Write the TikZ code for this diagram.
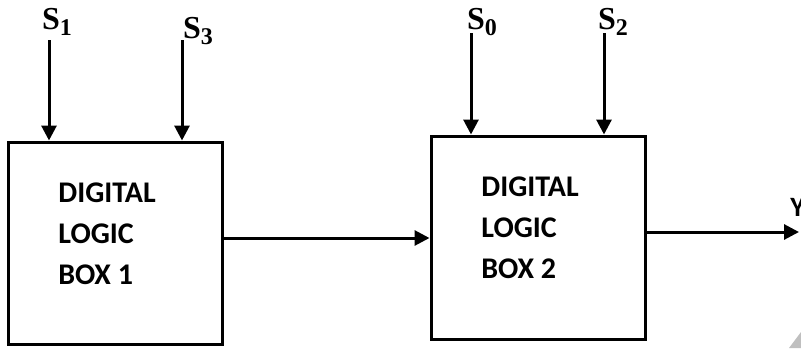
\documentclass[tikz,border=0pt]{standalone}
\usepackage{fontspec}
\setsansfont{Carlito}
\newfontfamily\selfont{Liberation Serif}
\usetikzlibrary{arrows.meta}
\tikzset{
  logicbox/.style={draw, line width=1.5pt, minimum width=107pt, minimum height=101pt, inner sep=0pt},
  boxtext/.style={font=\sffamily\bfseries\fontsize{15}{20.5}\selectfont, align=left, anchor=west, inner sep=0pt},
  sellabel/.style={font=\selfont\bfseries\fontsize{16}{18}\selectfont, inner sep=0pt},
  sigarrow/.style={line width=1.5pt, -{Triangle[length=7.5pt,width=7.5pt]}}
}
\newcommand{\sel}[1]{S\raisebox{-3pt}{\fontsize{12}{12}\selectfont #1}}
\begin{document}
\begin{tikzpicture}[x=0.5pt,y=-0.5pt]
				\useasboundingbox (0,0) rectangle (801,348);

				% the two boxes
				\node[logicbox] (box1) at (115,243) {};
				\node[logicbox, minimum height=101.5pt] (box2) at (538,237.5) {};

				\node[boxtext] (txt1) at (58,234) {DIGITAL\\LOGIC\\BOX 1};
				\node[boxtext] (txt2) at (481,228) {DIGITAL\\LOGIC\\BOX 2};

				% select inputs
				\coordinate (s1) at (49,40);
				\coordinate (s3) at (182,40);
				\coordinate (s0) at (471,33);
				\coordinate (s2) at (604,33);

				\node[sellabel] (l1) at (57,22) {\sel{1}};
				\node[sellabel] (l3) at (198,31) {\sel{3}};
				\node[sellabel] (l0) at (482,22) {\sel{0}};
				\node[sellabel] (l2) at (613,22) {\sel{2}};

				\draw[sigarrow] (s1) -- (s1 |- box1.north);
				\draw[sigarrow] (s3) -- (s3 |- box1.north);
				\draw[sigarrow] (s0) -- (s0 |- box2.north);
				\draw[sigarrow] (s2) -- (s2 |- box2.north);

				% box to box, and output
				\coordinate (mid) at (0,238);
				\coordinate (out) at (799,232);
				\draw[sigarrow] (box1.east |- mid) -- (box2.west |- mid);
				\draw[sigarrow] (box2.east |- out) -- (out);

				\node[font=\sffamily\bfseries\fontsize{14}{16}\selectfont, anchor=south west, inner sep=0pt] (y) at (790,217) {Y};

				\fill[black!25] (789,348) -- (801,332) -- (801,348) -- cycle;
			\end{tikzpicture}
\end{document}
